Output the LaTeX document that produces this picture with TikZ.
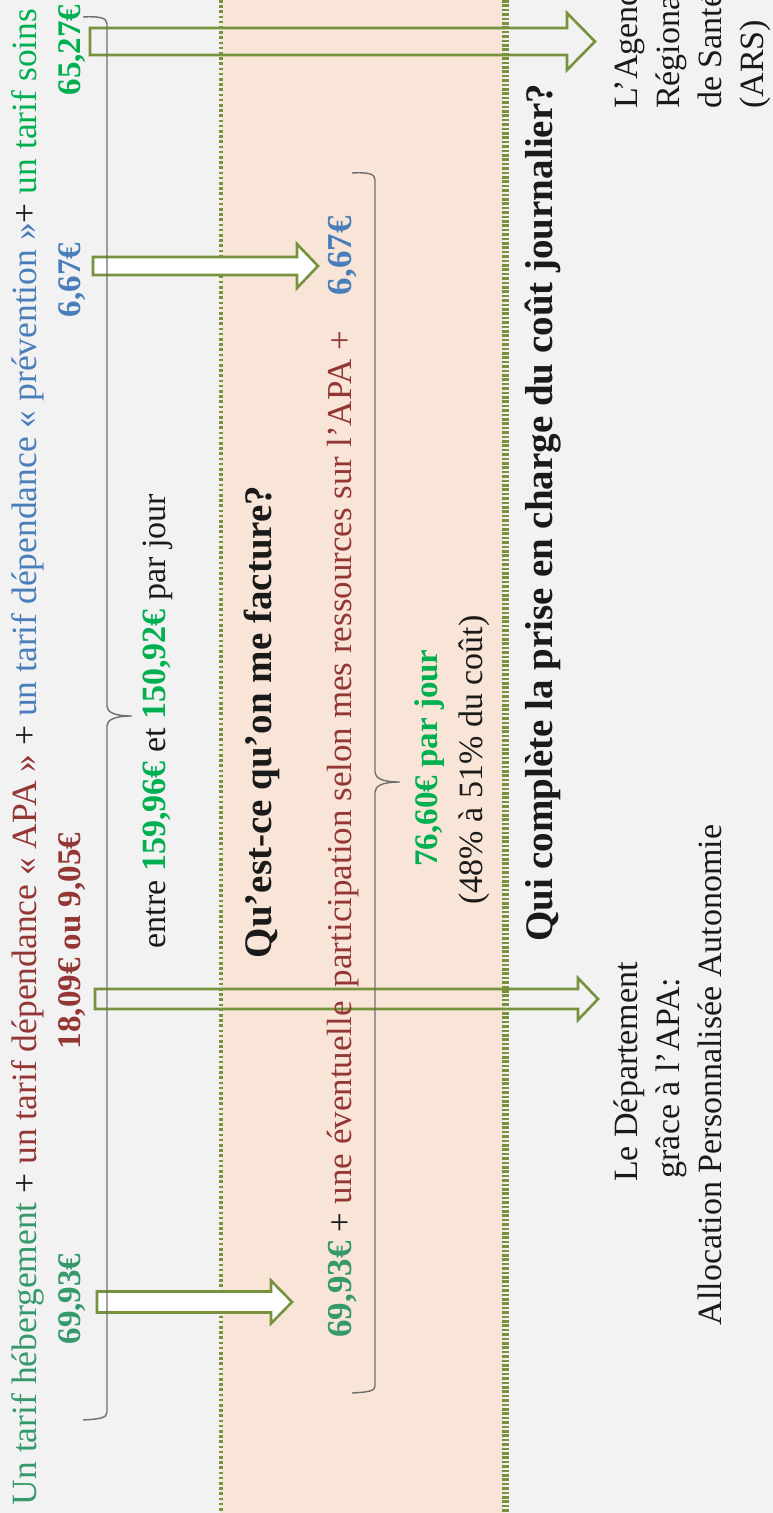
\documentclass[tikz,border=0pt]{standalone}
\usepackage{fontspec}
\setmainfont{Liberation Serif}
\definecolor{bgc}{HTML}{F2F2F2}
\definecolor{bandc}{HTML}{F8E5D7}
\definecolor{olivec}{HTML}{76923C}
\definecolor{tealc}{HTML}{35996B}
\definecolor{grnc}{HTML}{00B050}
\definecolor{dredc}{HTML}{943634}
\definecolor{bluc}{HTML}{4A7EBB}
\definecolor{inkc}{HTML}{1A1A1A}
\definecolor{bracec}{HTML}{6E6E6E}
\newcommand\fsbody{\fontsize{34}{41}\selectfont}
\newcommand\fsbig{\fontsize{35.5}{42}\selectfont}
\newcommand\fsmid{\fontsize{35}{42}\selectfont}
\newcommand\fsamt{\fontsize{33}{40}\selectfont\bfseries}
\newcommand\fstitle{\fontsize{39}{47}\selectfont\bfseries}
% #1 tail x, #2 head base x, #3 tip x, #4 centre y, #5 shaft half width, #6 head half width, #7 options
\newcommand\blockarrow[7]{%
  \draw[#7] (#1,#4-#5) -- (#2,#4-#5) -- (#2,#4-#6) -- (#3,#4) -- (#2,#4+#6)
    -- (#2,#4+#5) -- (#1,#4+#5) -- cycle;}
\begin{document}
\begin{tikzpicture}[x=1pt,y=-1pt,
  txt/.style={rotate=90,inner sep=0pt,anchor=base,font=\fsbody,text=inkc},
  amt/.style={txt,font=\fsamt},
  ttl/.style={txt,font=\fstitle},
  openarrow/.style={draw=olivec,line width=2.6pt,line join=miter},
  whitearrow/.style={openarrow,fill=white},
  bracestyle/.style={draw=bracec,line width=1.4pt},
  leftdots/.style={draw=olivec,line width=4pt,dash pattern=on 2.6pt off 2.6pt},
  rightdots/.style={draw=olivec,line width=7pt,dash pattern=on 2.6pt off 1.8pt}]
\useasboundingbox (0,0) rectangle (773,1513);
\fill[bgc] (0,0) rectangle (773,1513);
\fill[bandc] (221,0) rectangle (505,1513);
\draw[leftdots] (221,0) -- (221,1513);
\draw[rightdots] (505,0) -- (505,1513);

% block arrows
\blockarrow{90}{567}{595}{41.5}{13.5}{28.5}{openarrow}
\blockarrow{93}{297}{318}{266}{9}{22}{whitearrow}
\blockarrow{95}{578}{598}{999}{10}{21}{openarrow}
\blockarrow{97}{271}{292}{1302}{10.5}{21.5}{whitearrow}

% braces
\draw[bracestyle] (83,17) .. controls (100,16) and (107,18) .. (107,24)
  -- (107,706) .. controls (107,712) and (114,716) .. (132,716)
  .. controls (114,716) and (107,720) .. (107,726)
  -- (107,1412) .. controls (107,1418) and (100,1419) .. (83,1420);
\draw[bracestyle] (352,173) .. controls (369,172) and (375,174) .. (375,180)
  -- (375,772) .. controls (375,778) and (382,782) .. (400,782)
  .. controls (382,782) and (375,786) .. (375,792)
  -- (375,1386) .. controls (375,1391) and (369,1392) .. (352,1393);

% column 1
\node[txt,font=\fsbig] (line1) at (36,757) {\textcolor{tealc}{Un tarif hébergement} + \textcolor{dredc}{un tarif dépendance « APA »} + \textcolor{bluc}{un tarif dépendance « prévention »}+ \textcolor{grnc}{un tarif soins}};
\node[amt,text=tealc] (m1) at (80,1299) {69,93€};
\node[amt,text=dredc] (m2) at (80,941) {18,09€ ou 9,05€};
\node[amt,text=bluc] (m3) at (80,280) {6,67€};
\node[amt,text=grnc] (m4) at (80,50) {65,27€};

\node[txt] (range) at (165,721) {entre \textbf{\textcolor{grnc}{159,96€}} et \textbf{\textcolor{grnc}{150,92€}} par jour};

\node[ttl] (q1) at (271,722) {Qu’est-ce qu’on me facture?};

\node[txt,font=\fsmid] (bill) at (351,777) {\textbf{\textcolor{tealc}{69,93€}} + \textcolor{dredc}{une éventuelle\hspace{14pt}participation selon mes ressources sur l’APA +}\hspace{36pt}\textbf{\textcolor{bluc}{6,67€}}};

\node[amt,text=grnc] (perday) at (437,758) {76,60€ par jour};
\node[txt] (pct) at (482,760) {(48\% à 51\% du coût)};

\node[ttl] (q2) at (552,513) {Qui complète la prise en charge du coût journalier?};

\node[txt] (dep1) at (637,1072) {Le Département};
\node[txt] (dep2) at (679,1078) {grâce à l’APA:};
\node[txt] (dep3) at (721,1075) {Allocation Personnalisée Autonomie};

\node[txt,anchor=base west] (ars1) at (637,109) {L’Agence};
\node[txt,anchor=base west] (ars2) at (679,109) {Régionale};
\node[txt,anchor=base west] (ars3) at (721,109) {de Santé};
\node[txt,anchor=base west] (ars4) at (763,109) {(ARS)};
\end{tikzpicture}
\end{document}
